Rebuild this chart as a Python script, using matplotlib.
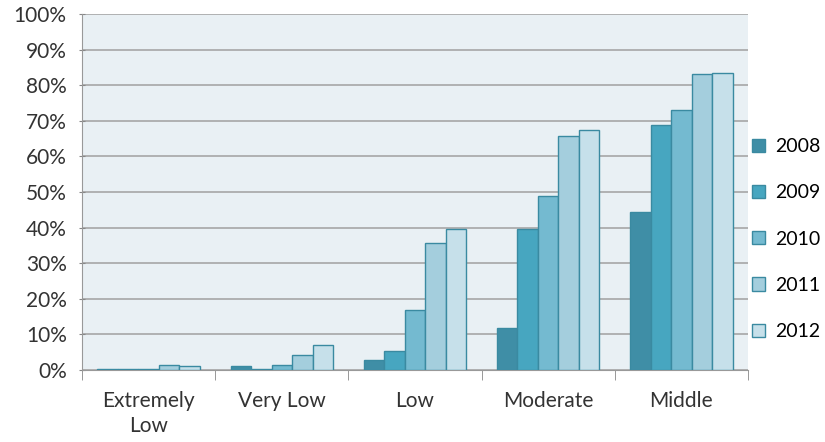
import numpy as np
import matplotlib.pyplot as plt

# Share of households by income group, per year
categories = ['Extremely\nLow', 'Very Low', 'Low', 'Moderate', 'Middle']
years = ['2008', '2009', '2010', '2011', '2012']
v2008 = [0.4, 1.2, 2.8, 11.7, 44.3]
v2009 = [0.4, 0.4, 5.3, 39.5, 68.7]
v2010 = [0.4, 1.5, 16.9, 49.0, 72.9]
v2011 = [1.4, 4.1, 35.6, 65.8, 83.1]
v2012 = [1.1, 7.0, 39.5, 67.5, 83.4]
series = [v2008, v2009, v2010, v2011, v2012]

colors = ['#3f8ea6', '#47a6c0', '#74bad0', '#a4cedd', '#c6e0ea']
edge = '#3a8aa1'

plt.rcParams['font.family'] = ['Lato', 'DejaVu Sans']

fig = plt.figure(figsize=(8.25, 4.42), dpi=100)
ax = fig.add_axes([0.0994, 0.1629, 0.8073, 0.8054])
ax.set_facecolor('#e9f0f4')

x = np.arange(len(categories))
w = 1 / 6.5
for i, (vals, c) in enumerate(zip(series, colors)):
    ax.bar(x + (i - 2) * w, vals, width=w, color=c, edgecolor=edge,
           linewidth=1, label=years[i], zorder=3)

ax.set_xlim(-0.5, len(categories) - 0.5)
ax.set_ylim(0, 100)
ax.set_yticks(np.arange(0, 101, 10))
ax.set_yticklabels([f'{t}%' for t in range(0, 101, 10)], fontsize=15, color='#333333')
ax.yaxis.grid(True, color='#a6a6a6', linewidth=1.2, zorder=0)

ax.set_xticks(x)
ax.set_xticklabels(categories, fontsize=15, color='#333333', linespacing=1.3)
ax.tick_params(axis='x', length=0, pad=15)
ax.set_xticks(np.arange(-0.5, len(categories), 1), minor=True)
ax.tick_params(axis='x', which='minor', length=7, color='#888888')
ax.tick_params(axis='y', length=4, direction='inout', color='#888888', pad=9)

for s in ['top', 'right']:
    ax.spines[s].set_visible(False)
for s in ['left', 'bottom']:
    ax.spines[s].set_color('#999999')

ax.legend(loc='center left', bbox_to_anchor=(0.9115, 0.459), bbox_transform=fig.transFigure,
          frameon=False, fontsize=14, handlelength=0.67, handleheight=0.67,
          handletextpad=0.5, labelspacing=1.5, borderaxespad=0, borderpad=0)

fig.savefig('out.png', dpi=100)
